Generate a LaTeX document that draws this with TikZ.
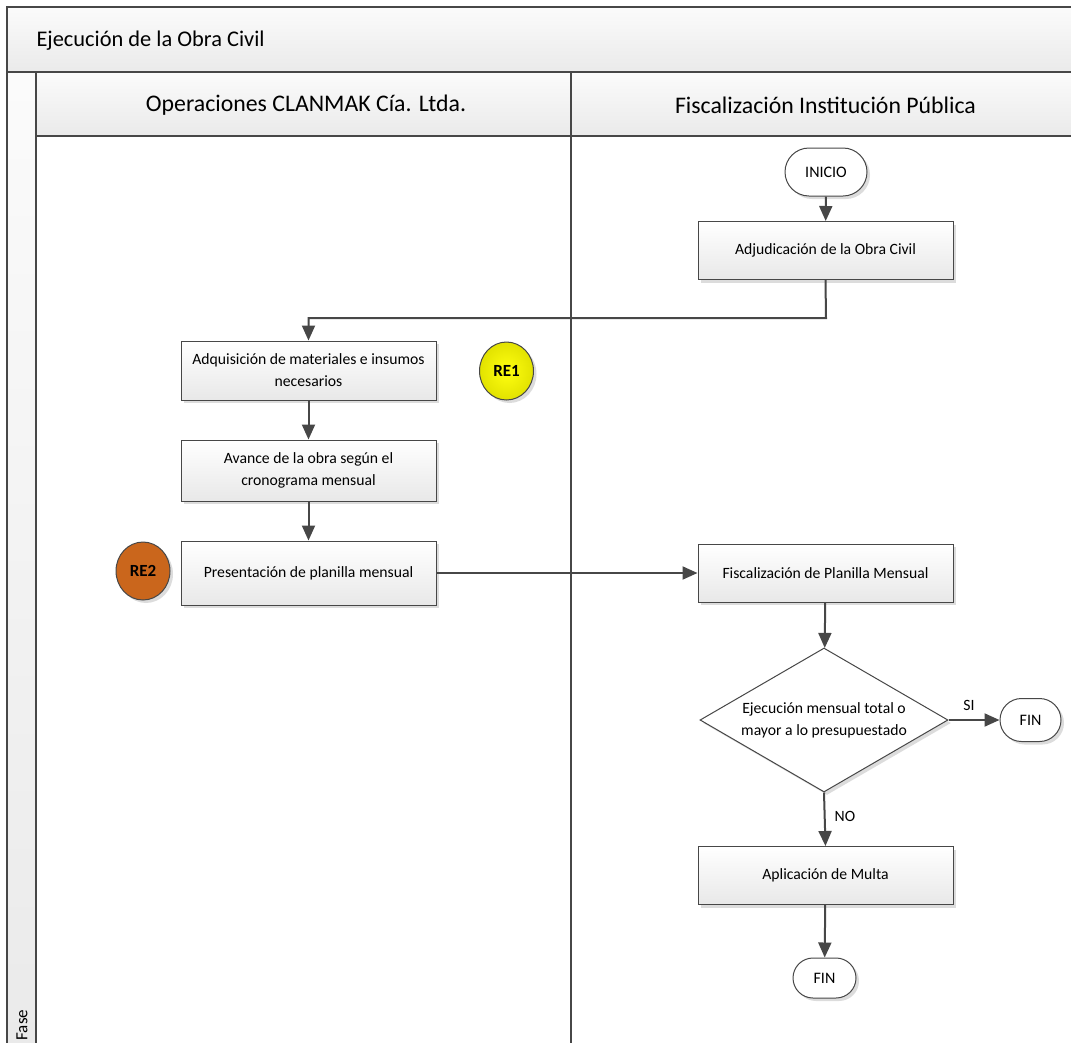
\documentclass[tikz,border=0pt]{standalone}
\usepackage{fontspec}
\setmainfont{Carlito}
\usetikzlibrary{shapes.geometric,shapes.misc,arrows.meta,shadows}

\definecolor{edge}{HTML}{474747}
\definecolor{bandtop}{HTML}{FBFBFB}
\definecolor{bandbot}{HTML}{EAEAEA}
\definecolor{reyellow}{HTML}{FFFF10}
\definecolor{reyellowdark}{HTML}{E2E200}
\definecolor{reorange}{HTML}{CA661C}

\tikzset{
  lane/.style={draw=edge, line width=1.8pt},
  band/.style={top color=bandtop, bottom color=bandbot, draw=none},
  softshadow/.style={drop shadow={shadow xshift=3pt, shadow yshift=-3pt, fill=black!30, opacity=0.45}},
  proc/.style={rectangle, draw=edge, line width=1pt, top color=white, bottom color=black!9,
    minimum width=255pt, minimum height=58pt, inner sep=2pt, align=center,
    font=\fontsize{15.7}{22}\selectfont, softshadow},
  term/.style={rounded rectangle, draw=edge, line width=1pt, fill=white, inner sep=0pt,
    font=\fontsize{16}{19}\selectfont, softshadow},
  decision/.style={diamond, draw=edge, line width=1pt, fill=white, aspect=1.72, inner sep=0pt,
    minimum width=248pt, minimum height=144pt, align=center,
    font=\fontsize{15.7}{22}\selectfont, softshadow},
  risk/.style={ellipse, draw=edge, line width=1pt, minimum width=54pt, minimum height=58pt,
    inner sep=0pt, font=\fontsize{17}{20}\selectfont\bfseries, softshadow},
  arr/.style={draw=edge, line width=2pt, -{Triangle[length=15pt,width=13pt]}},
  lbl/.style={font=\fontsize{15.7}{19}\selectfont, inner sep=0pt},
  headtext/.style={font=\fontsize{23.8}{28}\selectfont}
}

\begin{document}
\begin{tikzpicture}[x=1pt,y=-1pt]
  \clip (0,0) rectangle (1071,1042);

  % pool title band, lane header band and phase strip
  \fill[band] (7,7) rectangle (1080,72);
  \fill[band] (36,72) rectangle (1080,136);
  \fill[band] (7,72) rectangle (36,1050);
  \draw[lane] (1080,7) -- (7,7) -- (7,1050);
  \draw[lane] (7,72) -- (1080,72);
  \draw[lane] (36,136) -- (1080,136);
  \draw[lane] (36,72) -- (36,1050);
  \draw[lane] (571,72) -- (571,1050);

  \node[anchor=west, font=\fontsize{22.4}{27}\selectfont] (pool) at (33,41) {Ejecución de la Obra Civil};
  \node[headtext] (laneA) at (306,105) {Operaciones CLANMAK Cía. Ltda.};
  \node[headtext] (laneB) at (825.5,105) {Fiscalización Institución Pública};
  \node[rotate=90, anchor=west, font=\fontsize{17}{20}\selectfont] (fase) at (22,1044) {Fase};

  % process nodes
  \node[term, minimum width=82pt, minimum height=48pt] (inicio) at (826,172) {INICIO};
  \node[proc] (adj) at (825.5,250.5) {Adjudicación de la Obra Civil};
  \node[proc, minimum height=59pt] (adq) at (308.5,370.5) {Adquisición de materiales e insumos\\necesarios};
  \node[proc, minimum height=61pt] (ava) at (308.5,470.5) {Avance de la obra según el\\cronograma mensual};
  \node[proc, minimum height=64pt] (pre) at (308.5,573) {Presentación de planilla mensual};
  \node[proc] (fis) at (825.5,573) {Fiscalización de Planilla Mensual};
  \node[decision] (dec) at (824,720) {Ejecución mensual total o\\mayor a lo presupuestado};
  \node[term, minimum width=61pt, minimum height=43pt] (finA) at (1030.5,720) {FIN};
  \node[proc] (mul) at (825.5,875.5) {Aplicación de Multa};
  \node[term, minimum width=63pt, minimum height=40pt] (finB) at (824.5,978) {FIN};

  % risk markers
  \node[risk, inner color=reyellow, outer color=reyellowdark] (re1) at (506.5,371) {RE1};
  \node[risk, fill=reorange] (re2) at (143,571) {RE2};

  % connectors
  \coordinate (bend) at (826,318);
  \draw[arr] (inicio) -- (adj);
  \draw[arr] (adj.south) -- (bend) -| (adq.north);
  \draw[arr] (adq) -- (ava);
  \draw[arr] (ava) -- (pre);
  \draw[arr] (pre) -- (fis);
  \draw[arr] (fis) -- (dec);
  \draw[arr] (dec.east) -- (finA.west) node[lbl, pos=0.4, above=8pt] {SI};
  \draw[arr] (dec.south) -- (mul.north) node[lbl, pos=0.45, right=9pt] {NO};
  \draw[arr] (mul) -- (finB);
\end{tikzpicture}
\end{document}
